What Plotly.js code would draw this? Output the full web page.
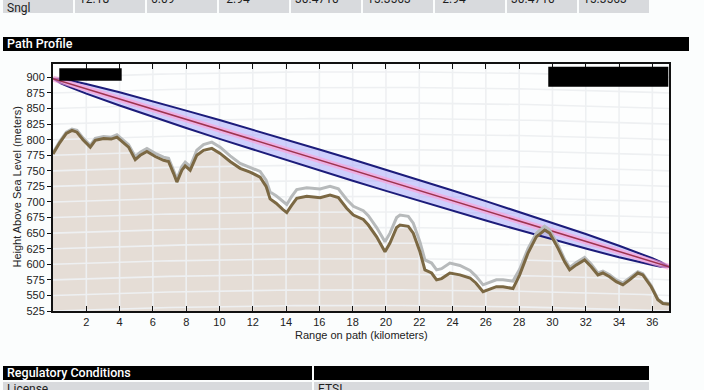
<!DOCTYPE html>
<html>
<head>
<meta charset="utf-8">
<script src="https://cdn.plot.ly/plotly-3.0.1.min.js"></script>
<style>
  html, body { margin: 0; padding: 0; }
  body { width: 704px; height: 390px; overflow: hidden; position: relative; background: #fbfdfd; font-family: Roboto, "Liberation Sans", Arial, sans-serif; }
  .cell { position: absolute; background: #d8dadd; color: #1e1e1e; font-size: 12px; box-sizing: border-box; padding-left: 4px; }
  .bar { position: absolute; background: #000; color: #fff; font-size: 12.5px; font-weight: 500; box-sizing: border-box; padding-left: 4px; line-height: 14px; }
  #chart { position: absolute; left: 0; top: 52px; width: 704px; height: 300px; }
</style>
</head>
<body>
<div id="toprow"></div>
<div class="bar" style="left:3px; top:37px; width:686px; height:14px;">Path Profile</div>
<div id="chart"></div>
<div class="bar" style="left:3px; top:366px; width:309px; height:14px;">Regulatory Conditions</div>
<div class="bar" style="left:314px; top:366px; width:335px; height:14px;"></div>
<div class="cell" style="left:3px; top:382px; width:309px; height:14px; line-height:14px;">License</div>
<div class="cell" style="left:314px; top:382px; width:335px; height:14px; line-height:14px;">ETSI</div>
<script>
// ---- table row data ----
const rowLabel = "Sngl";
const rowValues = ["12.18", "6.09", "-2.94", "30.4710", "15.3563", "-2.94", "30.4710", "15.3563"];

// ---- chart data ----
const xTicks = [2, 4, 6, 8, 10, 12, 14, 16, 18, 20, 22, 24, 26, 28, 30, 32, 34, 36];
const yTicks = [525, 550, 575, 600, 625, 650, 675, 700, 725, 750, 775, 800, 825, 850, 875, 900];

const rangeKm = [0.0, 0.4, 0.8, 1.14, 1.44, 1.8, 2.24, 2.54, 3.04, 3.5, 3.84, 4.04, 4.54, 4.94, 5.24, 5.64, 6.14, 6.64, 6.94, 7.24, 7.44, 7.74, 7.94, 8.24, 8.64, 9.04, 9.54, 10.04, 10.64, 11.24, 11.84, 12.44, 12.8, 13.04, 13.4, 13.8, 14.04, 14.34, 14.64, 15.24, 16.04, 16.64, 17.14, 17.64, 18.04, 18.64, 18.94, 19.44, 19.94, 20.24, 20.64, 20.84, 21.34, 21.64, 22.04, 22.34, 22.74, 23.04, 23.34, 23.84, 24.44, 25.05, 25.4, 25.83, 26.13, 26.63, 27.03, 27.63, 28.03, 28.53, 29.03, 29.53, 29.83, 30.33, 30.73, 31.03, 31.43, 31.93, 32.33, 32.73, 33.03, 33.43, 33.83, 34.23, 34.63, 35.13, 35.43, 35.93, 36.33, 36.63, 37.0];
const terrain = [777, 795, 810, 815, 812, 800, 788, 799, 802, 801, 804, 799, 788, 768, 775, 781, 773, 767, 765, 746, 732, 751, 758, 751, 775, 783, 786, 778, 765, 754, 748, 740, 725, 705, 698, 688, 683, 695, 706, 709, 707, 711, 707, 690, 679, 672, 663, 644, 620, 634, 659, 663, 661, 650, 620, 591, 586, 575, 577, 586, 583, 578, 570, 556, 559, 564, 564, 561, 583, 618, 644, 655, 650, 626, 604, 591, 599, 607, 596, 583, 586, 580, 572, 567, 575, 586, 583, 564, 543, 537, 536];
const clutter = [2, 2, 2, 2, 3, 3, 3, 3, 3, 3, 4, 4, 4, 5, 5, 5, 5, 5, 5, 5, 5, 6, 6, 6, 8, 9, 10, 10, 9, 8, 8, 9, 10, 11, 12, 13, 13, 14, 14, 14, 14, 14, 14, 14, 14, 14, 15, 15, 16, 16, 16, 16, 16, 16, 16, 16, 16, 16, 16, 16, 15, 12, 11, 11, 11, 11, 11, 12, 9, 7, 6, 6, 5, 5, 4, 4, 4, 4, 4, 3, 3, 3, 3, 3, 3, 2, 2, 2, 1, 1, 1];

const losKm = [0, 37];
const losHeight = [898, 596];
const fresnelKm = [0, 0.5, 1, 2, 4, 6, 8, 10, 12, 14, 16, 18, 20, 22, 24, 26, 28, 30, 32, 34, 35, 36, 36.5, 37];
const fresnelUpper = [898, 897.8, 895.3, 889.4, 876.0, 861.6, 846.7, 831.5, 816.0, 800.2, 784.3, 768.1, 751.8, 735.1, 718.4, 701.4, 684.1, 666.4, 648.5, 629.8, 620.0, 609.7, 604.0, 596];
const fresnelLower = [898, 890.0, 884.3, 874.0, 854.8, 836.4, 818.7, 801.3, 784.2, 767.2, 750.5, 734.1, 717.8, 701.7, 685.8, 670.2, 654.9, 639.8, 625.2, 611.2, 604.6, 598.7, 596.2, 596];

// ---- table row ----
(function () {
  const host = document.getElementById('toprow');
  const starts = [3, 75, 147, 219, 291, 363, 435, 507, 579];
  const texts = [rowLabel].concat(rowValues);
  texts.forEach((t, i) => {
    const d = document.createElement('div');
    d.className = 'cell';
    d.style.left = starts[i] + 'px';
    d.style.width = '70px';
    d.style.top = '-15px';
    d.style.height = '28px';
    if (i === 0) {
      d.style.lineHeight = '14px';
      d.style.paddingTop = '16px';
    } else {
      d.style.lineHeight = '28px';
    }
    d.textContent = t;
    host.appendChild(d);
  });
})();

// ---- chart ----
const totalKm = 37;
const bulge = 9;
const gx = [], gy = [];
for (const h of yTicks) {
  for (let i = 0; i <= 74; i++) {
    const x = i * 0.5;
    gx.push(x);
    gy.push(h + bulge * 4 * x * (totalKm - x) / (totalKm * totalKm));
  }
  gx.push(null); gy.push(null);
}
for (const x of xTicks) {
  gx.push(x, x, null);
  gy.push(500, 950, null);
}

const clutterTop = terrain.map((t, i) => t + clutter[i]);

const traces = [
  { x: rangeKm, y: terrain, type: 'scatter', mode: 'lines', fill: 'tozeroy', fillcolor: '#e5ddd6', line: { width: 0, color: 'rgba(0,0,0,0)' }, hoverinfo: 'skip' },
  { x: gx, y: gy, type: 'scatter', mode: 'lines', line: { color: '#eef0f2', width: 1.6 }, hoverinfo: 'skip', connectgaps: false },
  { x: fresnelKm, y: fresnelLower, type: 'scatter', mode: 'lines', line: { color: '#1c1c7a', width: 2 }, hoverinfo: 'skip' },
  { x: fresnelKm, y: fresnelUpper, type: 'scatter', mode: 'lines', fill: 'tonexty', fillcolor: 'rgba(160,160,250,0.5)', line: { color: '#1c1c7a', width: 2 }, hoverinfo: 'skip' },
  { x: losKm, y: losHeight, type: 'scatter', mode: 'lines', line: { color: 'rgba(255,160,215,0.65)', width: 6 }, hoverinfo: 'skip' },
  { x: losKm, y: losHeight, type: 'scatter', mode: 'lines', line: { color: '#9e3450', width: 1.5 }, hoverinfo: 'skip' },
  { x: rangeKm, y: clutterTop, type: 'scatter', mode: 'lines', line: { color: '#b7babb', width: 3 }, hoverinfo: 'skip' },
  { x: rangeKm, y: terrain, type: 'scatter', mode: 'lines', line: { color: '#7b6843', width: 3 }, hoverinfo: 'skip' }
];

const tickFont = { family: 'Arial, "Liberation Sans", sans-serif', size: 11, color: '#222' };

const layout = {
  width: 704, height: 300,
  margin: { l: 53, r: 35, t: 12, b: 41 },
  paper_bgcolor: 'rgba(0,0,0,0)',
  plot_bgcolor: '#fdfefe',
  showlegend: false,
  xaxis: {
    range: [0, 37], tickvals: xTicks, ticktext: xTicks.map(String),
    ticks: 'inside', ticklen: 5, tickwidth: 1, tickcolor: '#111',
    mirror: 'allticks', showline: true, linecolor: '#111', linewidth: 2,
    showgrid: false, zeroline: false, tickfont: tickFont, fixedrange: true
  },
  yaxis: {
    range: [525, 921.5], tickvals: yTicks, ticktext: yTicks.map(String),
    ticks: 'outside', ticklen: 4, tickwidth: 1, tickcolor: '#111',
    mirror: true, showline: true, linecolor: '#111', linewidth: 2,
    showgrid: false, zeroline: false, tickfont: tickFont, fixedrange: true
  },
  yaxis2: {
    overlaying: 'y', side: 'right', range: [525, 921.5], tickvals: yTicks,
    ticks: 'inside', ticklen: 5, tickwidth: 1, tickcolor: '#111',
    showticklabels: false, showline: false, showgrid: false, zeroline: false
  },
  shapes: [
    { type: 'rect', xref: 'paper', yref: 'paper', x0: 0.0102, x1: 0.1115, y0: 0.9324, y1: 0.9826, fillcolor: '#000', line: { width: 0 }, layer: 'above' },
    { type: 'rect', xref: 'paper', yref: 'paper', x0: 0.804, x1: 0.9989, y0: 0.908, y1: 0.989, fillcolor: '#000', line: { width: 0 }, layer: 'above' }
  ],
  annotations: [
    { text: 'Range on path (kilometers)', xref: 'paper', yref: 'paper', x: 0.5, y: -0.097, xanchor: 'center', yanchor: 'middle', showarrow: false, font: { family: 'Arial, "Liberation Sans", sans-serif', size: 11, color: '#222' } },
    { text: 'Height Above Sea Level (meters)', xref: 'paper', yref: 'paper', x: -0.06, y: 0.5, xanchor: 'center', yanchor: 'middle', textangle: -90, showarrow: false, font: { family: 'Arial, "Liberation Sans", sans-serif', size: 11, color: '#222' } }
  ]
};

Plotly.newPlot('chart', traces, layout, { staticPlot: true, displayModeBar: false });
</script>
</body>
</html>
